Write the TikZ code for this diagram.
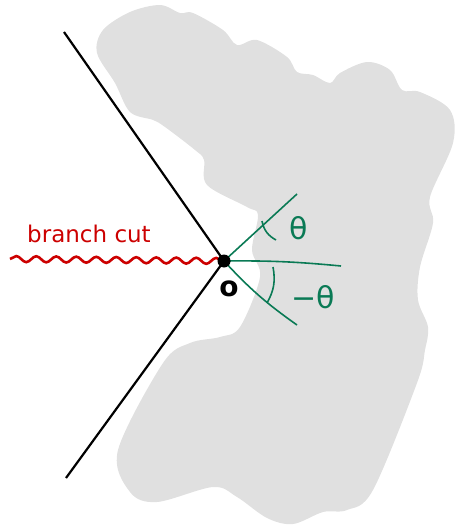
\documentclass[tikz,border=0pt]{standalone}
\usepackage{fontspec}
\setmainfont{DejaVu Sans}
\usetikzlibrary{decorations.pathmorphing}
\definecolor{blobgray}{HTML}{E0E0E0}
\definecolor{cutred}{HTML}{CC0000}
\definecolor{anggreen}{HTML}{0A7A55}
\tikzset{
  blob/.style={fill=blobgray,draw=none},
  contour/.style={draw=black,line width=2.2pt},
  angline/.style={draw=anggreen,line width=1.6pt},
  cutline/.style={draw=cutred,line width=2.6pt,decorate,decoration={snake,amplitude=3pt,segment length=20pt}},
  lbl/.style={inner sep=0pt}
}
\begin{document}
\begin{tikzpicture}[x=1pt,y=-1pt]
\useasboundingbox (0,0) rectangle (458,532);
% gray region
\fill[blob] plot[smooth cycle,tension=0.55] coordinates {
(97,53) (103,30) (130,12) (160,5) (180,13) (193,13) (223,30) (237,45) (257,40) (287,57) (297,72) (313,75) (330,83) (340,73) (367,62) (390,70) (402,90) (420,92) (450,110) (453,143) (430,197) (433,223) (420,267) (418,300) (428,327) (425,350) (417,383) (373,490) (347,510) (323,512) (293,524) (267,518) (237,497) (213,487) (157,502) (130,492) (118,450) (163,363) (190,343) (220,337) (240,327) (260,277) (252,250) (258,215) (247,207) (207,185) (204,160) (195,150) (165,127) (153,120) (130,112) (115,83)};
% contour
\coordinate (top) at (64,32);
\coordinate (bot) at (66,478);
\coordinate (oc) at (224,261);
\draw[contour] (top) -- (oc) -- (bot);
\node[lbl,font=\bfseries\fontsize{28}{28}\selectfont] (olbl) at (229,289) {o};
% branch cut
\coordinate (cutstart) at (10,259);
\draw[cutline] (cutstart) -- (oc);
\node[lbl,text=cutred,font=\fontsize{23}{23}\selectfont] (cutlbl) at (89,234) {branch cut};
% angle lines
\coordinate (up) at (297,194);
\coordinate (mid) at (341,266);
\coordinate (dn) at (297,325);
\draw[angline] (oc) -- (up);
\draw[angline] (oc) to[bend left=3] (mid);
\draw[angline] (oc) to[bend right=6] (dn);
\coordinate (a1) at (262,221);
\coordinate (a2) at (276,240);
\draw[angline] (a1) to[bend right=25] (a2);
\coordinate (b1) at (273,267);
\coordinate (b2) at (267,303);
\draw[angline] (b1) to[bend left=20] (b2);
\node[lbl,text=anggreen,font=\fontsize{30}{30}\selectfont] (th) at (299,228) {θ};
\node[lbl,text=anggreen,font=\fontsize{30}{30}\selectfont] (mth) at (313,297) {−θ};
\node[circle,fill=black,inner sep=0pt,minimum size=13pt] (o) at (oc) {};
\end{tikzpicture}
\end{document}
